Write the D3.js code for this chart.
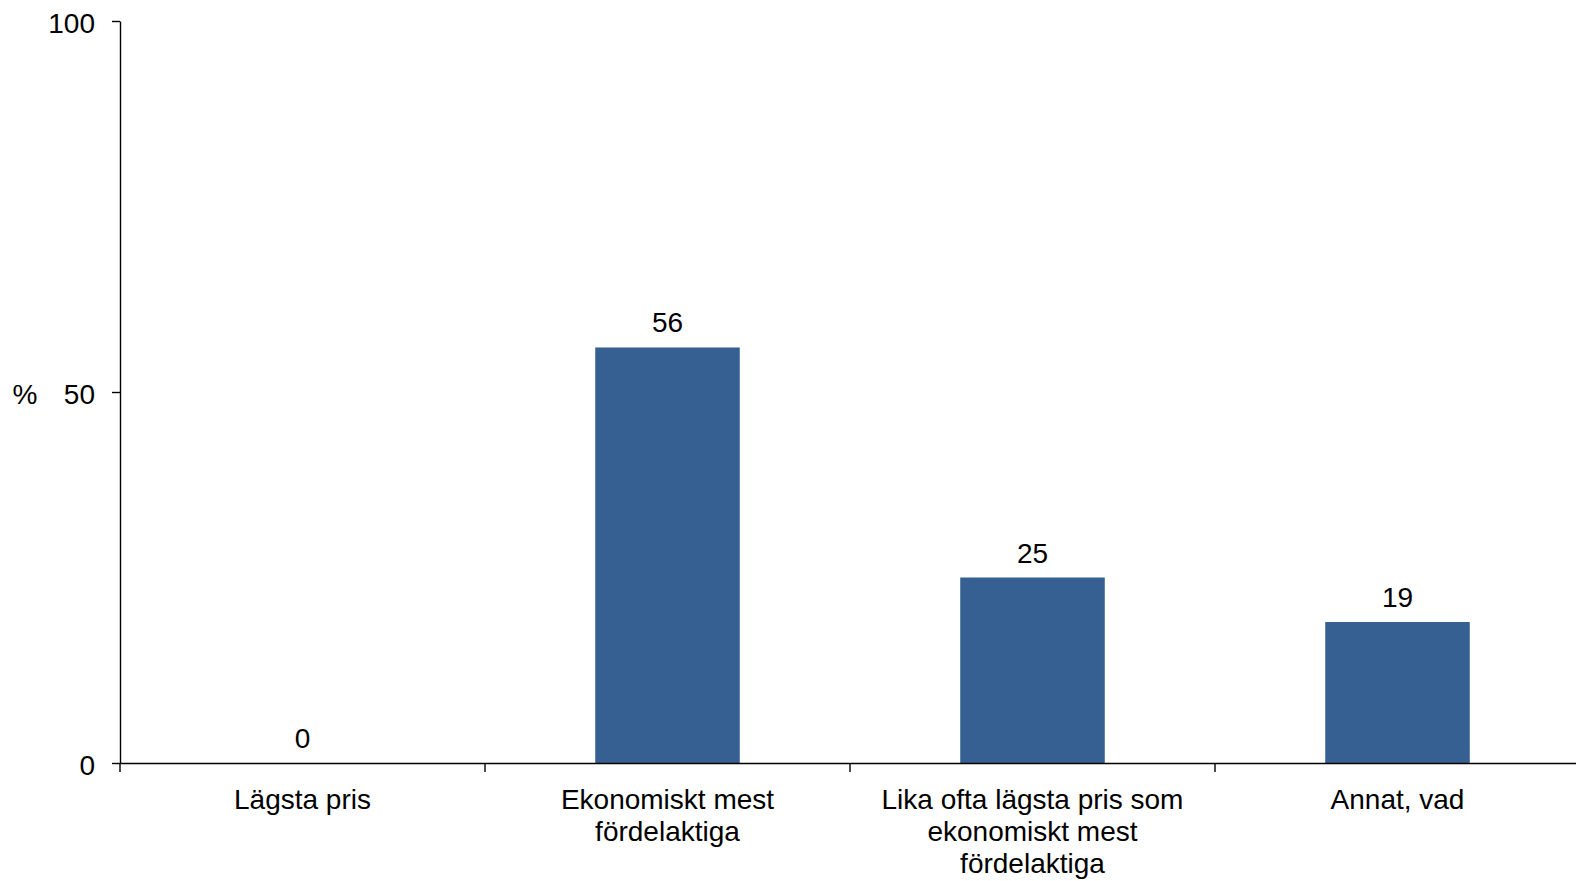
<!DOCTYPE html>
<html><head><meta charset="utf-8">
<script src="https://cdn.jsdelivr.net/npm/d3@7"></script>
<style>body{margin:0;background:#fff}svg{display:block}text{font-family:"Liberation Sans",Arial,sans-serif;fill:#000}</style>
</head><body>
<svg id="c" width="1576" height="881"></svg>
<script>
const categories = ["Lägsta pris", "Ekonomiskt mest fördelaktiga", "Lika ofta lägsta pris som ekonomiskt mest fördelaktiga", "Annat, vad"];
const categoryLines = [["Lägsta pris"], ["Ekonomiskt mest", "fördelaktiga"], ["Lika ofta lägsta pris som", "ekonomiskt mest", "fördelaktiga"], ["Annat, vad"]];
const values = [0, 56, 25, 19];
const yTicks = [0, 50, 100];
const yLabel = "%";

const svg = d3.select("#c");
const x0 = 120, x1 = 1580, yTop = 21, yBot = 763;
const fs = 28;
const x = d3.scaleBand().domain(categories).range([x0, x1]).paddingInner(0).paddingOuter(0);
const y = d3.scaleLinear().domain([0, 100]).range([yBot, yTop]);
const bw = x.bandwidth() * 0.396;

svg.selectAll("rect.bar").data(categories).enter().append("rect")
  .attr("class", "bar")
  .attr("x", (d) => x(d) + (x.bandwidth() - bw) / 2)
  .attr("width", bw)
  .attr("y", (d, i) => y(values[i]))
  .attr("height", (d, i) => y(0) - y(values[i]))
  .attr("fill", "#366092");

svg.selectAll("text.val").data(categories).enter().append("text")
  .attr("class", "val")
  .attr("x", (d) => x(d) + x.bandwidth() / 2)
  .attr("y", (d, i) => y(values[i]) - 15)
  .attr("text-anchor", "middle")
  .style("font-size", fs + "px")
  .text((d, i) => values[i]);

// y axis
const ya = svg.append("g").attr("transform", `translate(${x0},0)`)
  .call(d3.axisLeft(y).tickValues(yTicks).tickSize(8).tickPadding(17).tickSizeOuter(0));
ya.select(".domain").attr("stroke", "#000").attr("stroke-width", 1.4);
ya.selectAll(".tick line").attr("stroke", "#000").attr("stroke-width", 1.4);
ya.selectAll(".tick text").attr("dy", "0.42em").style("font-size", fs + "px").style("font-family", '"Liberation Sans",Arial,sans-serif').attr("fill", "#000");

// x axis
const xa = svg.append("g").attr("transform", `translate(0,${yBot})`)
  .call(d3.axisBottom(x).tickSize(0).tickSizeOuter(0).tickFormat(""));
xa.select(".domain").attr("stroke", "#000").attr("stroke-width", 1.4);
xa.selectAll(".tick line").remove();
const bounds = categories.map((d) => x(d)).concat([x1]);
xa.selectAll("line.sep").data(bounds).enter().append("line")
  .attr("class", "sep")
  .attr("x1", (d) => d).attr("x2", (d) => d)
  .attr("y1", 0).attr("y2", 9)
  .attr("stroke", "#000").attr("stroke-width", 1.4);

// category labels
svg.selectAll("text.cat").data(categories).enter().append("text")
  .attr("class", "cat")
  .attr("text-anchor", "middle")
  .style("font-size", fs + "px")
  .each(function (d, i) {
    const t = d3.select(this);
    categoryLines[i].forEach((ln, j) => {
      t.append("tspan").attr("x", x(d) + x.bandwidth() / 2).attr("y", 809 + j * 32.2).text(ln);
    });
  });

svg.append("text").attr("x", 25).attr("y", 404).attr("text-anchor", "middle")
  .style("font-size", fs + "px").text(yLabel);
</script>
</body></html>
